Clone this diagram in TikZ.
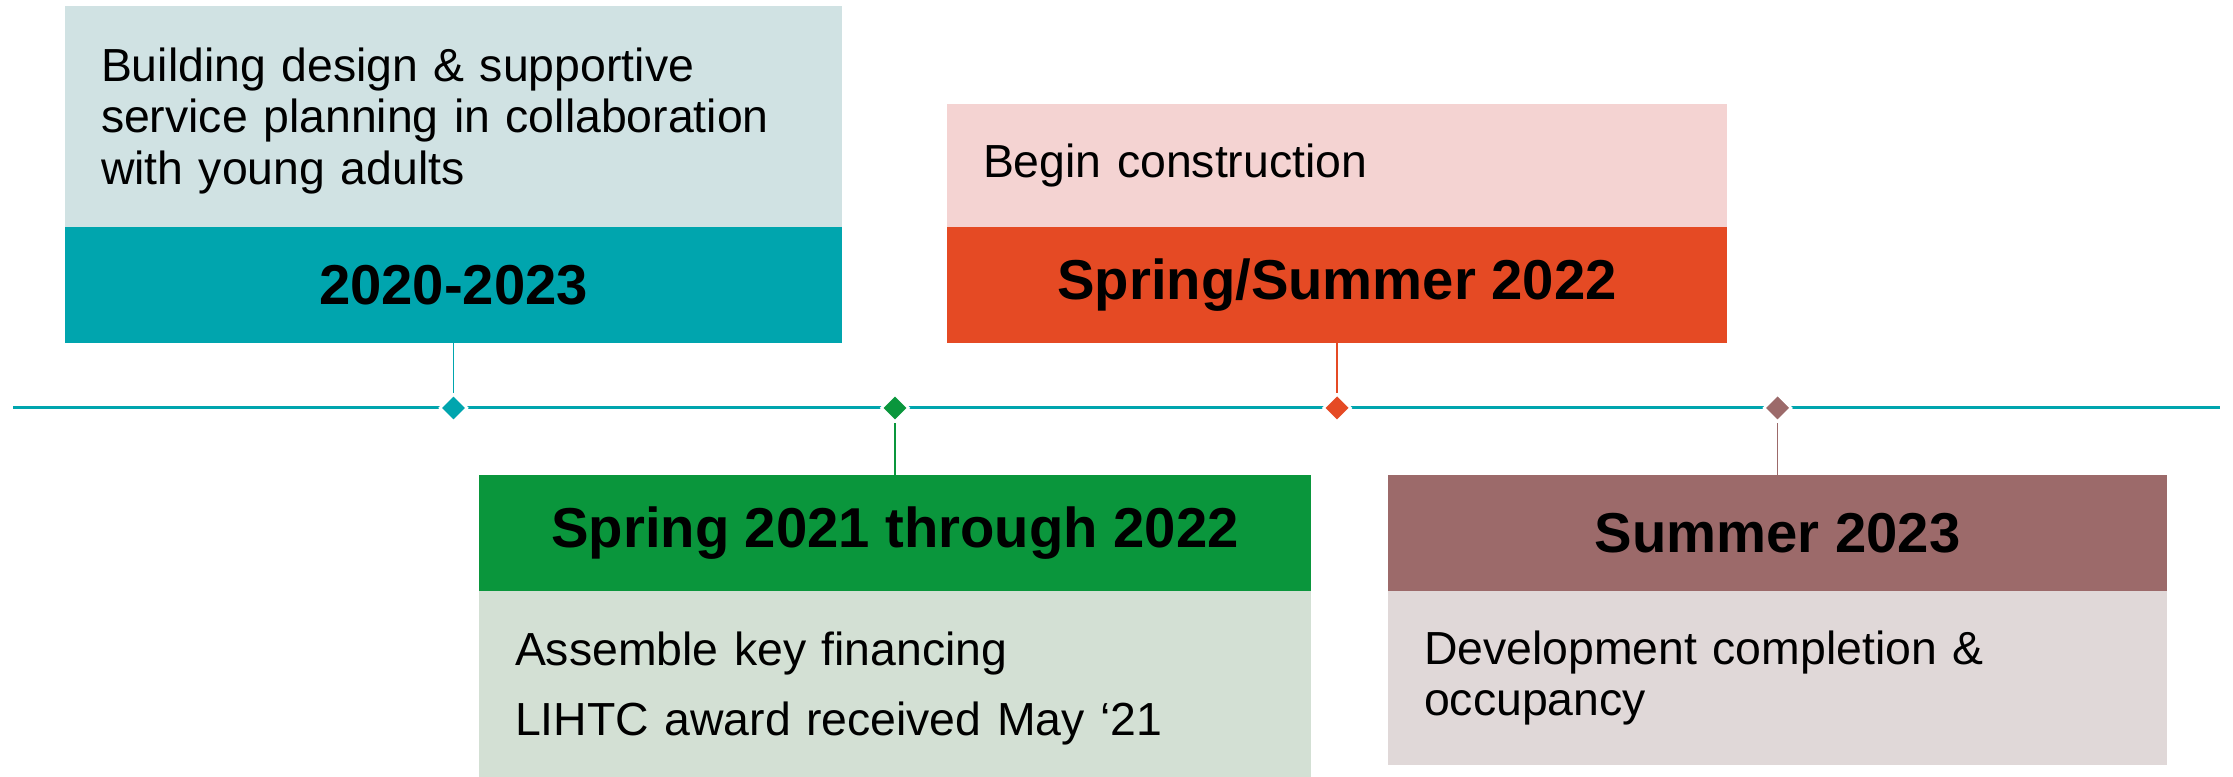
\documentclass[tikz,border=0pt]{standalone}
\usepackage{fontspec}
\setmainfont{Liberation Sans}
\usetikzlibrary{shapes.geometric}

\definecolor{teal1}{HTML}{00A5AE}
\definecolor{teal2}{HTML}{D0E2E3}
\definecolor{red1}{HTML}{E54A24}
\definecolor{red2}{HTML}{F4D3D2}
\definecolor{green1}{HTML}{0A963C}
\definecolor{green2}{HTML}{D3E0D4}
\definecolor{brown1}{HTML}{9C6A6A}
\definecolor{brown2}{HTML}{E0D8D8}

\tikzset{
  band/.style={inner sep=0pt, outer sep=0pt, minimum height=116*\u, font=\fontsize{16}{19}\selectfont\bfseries},
  note/.style={inner xsep=3.6mm, inner ysep=0pt, outer sep=0pt, align=left, font=\fontsize{13.2}{14.6}\selectfont},
  gem/.style={diamond, inner sep=0pt, minimum width=28*\u, minimum height=28*\u, draw=white, line width=0.25mm},
}

\begin{document}
\begin{tikzpicture}
\def\u{0.1mm}
\def\ty{369}

\useasboundingbox (0, 0) rectangle (2233*\u, 777*\u);

% time line
\coordinate (t0) at (13*\u, \ty*\u);
\coordinate (t1) at (2220*\u, \ty*\u);
\draw[teal1, line width=0.3mm] (t0) -- (t1);

% upper boxes (light part reaches under the band, so its text sits a little lower)
\node[note, fill=teal2, minimum width=777*\u, minimum height=230*\u, text width=70.5mm, anchor=north] (n1) at (453.5*\u, 771*\u) {Building design \& supportive\\service planning in collaboration\\with young adults};
\node[band, fill=teal1, minimum width=777*\u, anchor=south] (d1) at (453.5*\u, 434*\u) {2020-2023};

\node[band, fill=red1, minimum width=780*\u, anchor=south] (d2) at (1337*\u, 434*\u) {Spring/Summer 2022};
\node[note, fill=red2, minimum width=780*\u, minimum height=123*\u, text width=70.8mm, anchor=south] (n2) at (d2.north) {Begin construction};

% lower boxes
\node[band, fill=green1, minimum width=832*\u, anchor=north] (d3) at (895*\u, 302*\u) {Spring 2021 through 2022};
\node[note, fill=green2, minimum width=832*\u, minimum height=195*\u, text width=76mm, anchor=north] (n3) at (d3.south) {Assemble key financing\\[5.5pt]LIHTC award received May ‘21};

\node[band, fill=brown1, minimum width=779*\u, anchor=north] (d4) at (1777.5*\u, 302*\u) {Summer 2023};
\node[note, fill=brown2, minimum width=779*\u, minimum height=174*\u, text width=70.7mm, anchor=north] (n4) at (d4.south) {Development completion \&\\occupancy};

% markers
\foreach \i/\x/\c in {1/453.5/teal1, 2/1337/red1, 3/895/green1, 4/1777.5/brown1} \node[gem, fill=\c] (g\i) at (\x*\u, \ty*\u) {};
\foreach \i/\c in {1/teal1, 2/red1} \draw[\c, line width=0.15mm] (d\i) -- (g\i);
\foreach \i/\c in {3/green1, 4/brown1} \draw[\c, line width=0.15mm] (g\i) -- (d\i);
\end{tikzpicture}
\end{document}
